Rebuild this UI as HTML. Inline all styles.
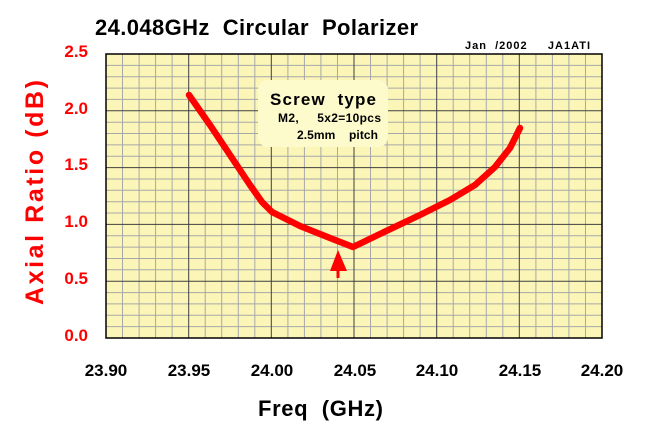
<!DOCTYPE html><html><head><style>body{margin:0;background:#fff}svg{display:block}</style></head><body>
<svg width="648" height="447" viewBox="0 0 648 447" font-family="Liberation Sans, Arial, sans-serif">
<rect x="106" y="54" width="496" height="284" fill="#fbf6b8"/>
<path stroke="#a8a8a8" stroke-width="1" fill="none" d="M122.5,54V338M139.1,54V338M155.6,54V338M172.1,54V338M205.2,54V338M221.7,54V338M238.3,54V338M254.8,54V338M287.9,54V338M304.4,54V338M320.9,54V338M337.5,54V338M370.5,54V338M387.1,54V338M403.6,54V338M420.1,54V338M453.2,54V338M469.7,54V338M486.3,54V338M502.8,54V338M535.9,54V338M552.4,54V338M568.9,54V338M585.5,54V338
M106,326.6H602M106,315.3H602M106,303.9H602M106,292.6H602M106,269.8H602M106,258.5H602M106,247.1H602M106,235.8H602M106,213H602M106,201.7H602M106,190.3H602M106,179H602M106,156.2H602M106,144.9H602M106,133.5H602M106,122.2H602M106,99.4H602M106,88.1H602M106,76.7H602M106,65.4H602"/>
<path stroke="#404040" stroke-width="1" fill="none" d="M188.7,54V338M271.3,54V338M354,54V338M436.7,54V338M519.3,54V338M106,281.2H602M106,224.4H602M106,167.6H602M106,110.8H602"/>
<rect x="106" y="54" width="496" height="284" fill="none" stroke="#000" stroke-width="1.5"/>
<rect x="258" y="80" width="130" height="67" rx="10" fill="#fdfacc"/>
<text x="270" y="105" font-size="17" font-weight="bold" textLength="106" xml:space="preserve">Screw  type</text>
<text x="278" y="122" font-size="12" font-weight="bold" textLength="103" xml:space="preserve">M2,     5x2=10pcs</text>
<text x="297" y="139" font-size="12" font-weight="bold" textLength="81" xml:space="preserve">2.5mm    pitch</text>
<polyline points="189,95 210,125 230,155 250,185 262,202 272,212 300,226 330,238 353,247 380,234 420,215 450,200 475,185 495,167 510,148 520,128" fill="none" stroke="#f00" stroke-width="6.5" stroke-linejoin="round" stroke-linecap="round"/>
<polygon points="338,250 330,271 347,271" fill="#f00"/>
<line x1="338" y1="268" x2="338" y2="278" stroke="#f00" stroke-width="3"/>
<text x="95" y="35" font-size="22" font-weight="bold" textLength="323" xml:space="preserve">24.048GHz  Circular  Polarizer</text>
<text x="465" y="49" font-size="11" font-weight="bold" textLength="125" xml:space="preserve">Jan  /2002     JA1ATI</text>
<g fill="#f00" font-size="17" font-weight="bold" text-anchor="end">
<text x="88" y="57">2.5</text><text x="88" y="114">2.0</text><text x="88" y="170">1.5</text><text x="88" y="227">1.0</text><text x="88" y="284">0.5</text><text x="88" y="341">0.0</text></g>
<g font-size="17" font-weight="bold" text-anchor="middle">
<text x="106" y="376">23.90</text><text x="189" y="376">23.95</text><text x="272" y="376">24.00</text><text x="355" y="376">24.05</text><text x="437" y="376">24.10</text><text x="520" y="376">24.15</text><text x="602" y="376">24.20</text></g>
<text x="258" y="416" font-size="22" font-weight="bold" textLength="125" xml:space="preserve">Freq  (GHz)</text>
<text transform="translate(43,305) rotate(-90)" fill="#f00" font-size="25" font-weight="bold" textLength="225">Axial Ratio (dB)</text>
</svg></body></html>
